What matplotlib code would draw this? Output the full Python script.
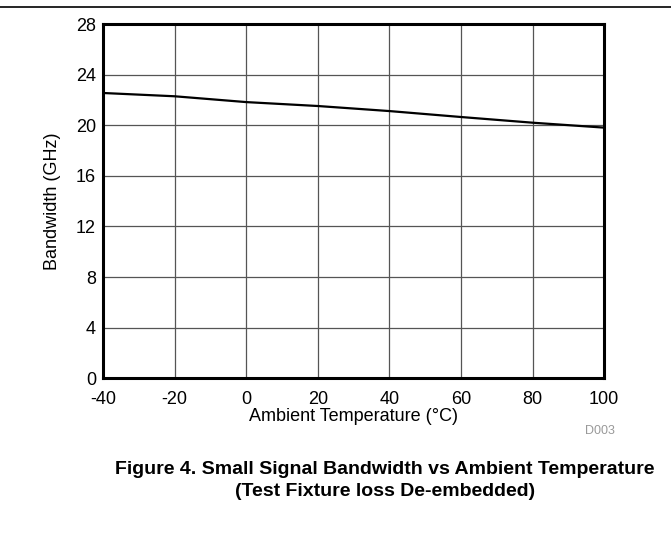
import matplotlib.pyplot as plt
from matplotlib.lines import Line2D

plt.rcParams['font.family'] = ['Liberation Sans', 'DejaVu Sans']
plt.rcParams['axes.unicode_minus'] = False

# Ambient temperature (C) vs bandwidth (GHz)
temp = [-40, -20, 0, 20, 40, 60, 80, 100]
bandwidth = [22.56, 22.3, 21.84, 21.53, 21.13, 20.66, 20.21, 19.82]

xticks = [-40, -20, 0, 20, 40, 60, 80, 100]
yticks = [0, 4, 8, 12, 16, 20, 24, 28]

fig = plt.figure(figsize=(6.71, 5.38), dpi=100)
ax = fig.add_axes([0.1535, 0.297, 0.747, 0.658])

ax.plot(temp, bandwidth, color='black', linewidth=1.6, zorder=3)

ax.set_xlim(-40, 100)
ax.set_ylim(0, 28)
ax.set_xticks(xticks)
ax.set_yticks(yticks)
ax.tick_params(length=0, labelsize=13)
ax.tick_params(axis='x', pad=9)
ax.tick_params(axis='y', pad=5)
ax.grid(True, color='#555555', linewidth=0.9)
for s in ax.spines.values():
    s.set_linewidth(2.2)

ax.set_xlabel("Ambient Temperature (°C)", fontsize=13, labelpad=0)
ax.set_ylabel("Bandwidth (GHz)", fontsize=13, labelpad=11)

fig.text(0.894, 0.193, "D003", fontsize=9, color='#999999', ha='center')

fig.text(0.574, 0.119, "Figure 4. Small Signal Bandwidth vs Ambient Temperature",
         fontsize=14, fontweight='bold', ha='center')
fig.text(0.574, 0.078, "(Test Fixture loss De-embedded)",
         fontsize=14, fontweight='bold', ha='center')

# rule across the top of the page
fig.add_artist(Line2D([0, 1], [0.987, 0.987], color='black', linewidth=1.2,
                      transform=fig.transFigure))

fig.savefig("out.png", dpi=100)
